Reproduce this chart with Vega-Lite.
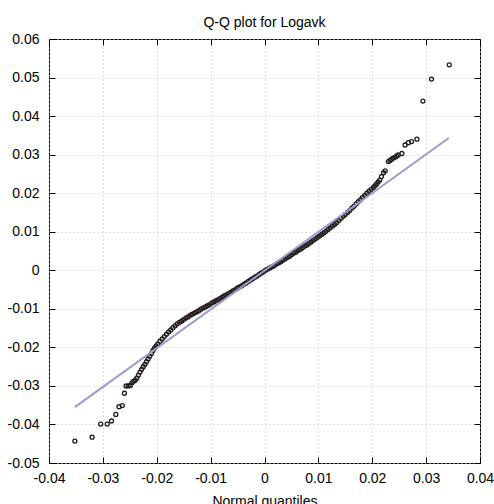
{
  "$schema": "https://vega.github.io/schema/vega-lite/v6.json",
  "width": 431,
  "height": 424,
  "autosize": "none",
  "padding": {"left": 49, "top": 39, "right": 14, "bottom": 41},
  "background": "white",
  "title": {"text": "Q-Q plot for Logavk", "font": "Liberation Sans", "fontSize": 14, "fontWeight": "normal", "color": "#000", "offset": 2, "frame": "group"},
  "config": {
    "view": {"stroke": "#000", "strokeWidth": 1},
    "axis": {
      "labelFont": "Liberation Sans",
      "labelFontSize": 14,
      "labelColor": "#000",
      "titleFont": "Liberation Sans",
      "titleFontSize": 14,
      "titleFontWeight": "normal",
      "titleColor": "#000",
      "tickColor": "#000",
      "tickWidth": 1,
      "tickSize": -6,
      "domain": false,
      "labelFlush": false,
      "labelOverlap": false,
      "gridColor": "#c4c4c4",
      "gridDash": [1, 3],
      "gridWidth": 1
    }
  },
  "datasets": {
    "pts": [
      {"x": -0.0352, "y": -0.0443},
      {"x": -0.0320, "y": -0.0433},
      {"x": -0.0304, "y": -0.0399},
      {"x": -0.0292, "y": -0.0399},
      {"x": -0.0284, "y": -0.0391},
      {"x": -0.0276, "y": -0.0374},
      {"x": -0.0270, "y": -0.0354},
      {"x": -0.0264, "y": -0.0351},
      {"x": -0.0260, "y": -0.0319},
      {"x": -0.0257, "y": -0.0300},
      {"x": -0.0253, "y": -0.0300},
      {"x": -0.0249, "y": -0.0299},
      {"x": -0.0246, "y": -0.0292},
      {"x": -0.0243, "y": -0.0288},
      {"x": -0.0240, "y": -0.0285},
      {"x": -0.0237, "y": -0.0280},
      {"x": -0.0234, "y": -0.0272},
      {"x": -0.0231, "y": -0.0264},
      {"x": -0.0228, "y": -0.0257},
      {"x": -0.0225, "y": -0.0250},
      {"x": -0.0222, "y": -0.0244},
      {"x": -0.0219, "y": -0.0237},
      {"x": -0.0216, "y": -0.0230},
      {"x": -0.0213, "y": -0.0223},
      {"x": -0.0210, "y": -0.0216},
      {"x": -0.0207, "y": -0.0208},
      {"x": -0.0204, "y": -0.0202},
      {"x": -0.0201, "y": -0.0196},
      {"x": -0.0198, "y": -0.0191},
      {"x": -0.0194, "y": -0.0184},
      {"x": -0.0190, "y": -0.0178},
      {"x": -0.0186, "y": -0.0172},
      {"x": -0.0182, "y": -0.0166},
      {"x": -0.0178, "y": -0.0160},
      {"x": -0.0174, "y": -0.0155},
      {"x": -0.0170, "y": -0.0149},
      {"x": -0.0166, "y": -0.0144},
      {"x": -0.0162, "y": -0.0139},
      {"x": -0.0158, "y": -0.0135},
      {"x": -0.0154, "y": -0.0132},
      {"x": -0.0150, "y": -0.0128},
      {"x": -0.0146, "y": -0.0124},
      {"x": -0.0142, "y": -0.0121},
      {"x": -0.0138, "y": -0.0117},
      {"x": -0.0134, "y": -0.0114},
      {"x": -0.0130, "y": -0.0111},
      {"x": -0.0126, "y": -0.0108},
      {"x": -0.0122, "y": -0.0105},
      {"x": -0.0118, "y": -0.0101},
      {"x": -0.0114, "y": -0.0098},
      {"x": -0.0110, "y": -0.0095},
      {"x": -0.0106, "y": -0.0092},
      {"x": -0.0102, "y": -0.0089},
      {"x": -0.0098, "y": -0.0085},
      {"x": -0.0094, "y": -0.0082},
      {"x": -0.0090, "y": -0.0079},
      {"x": -0.0086, "y": -0.0076},
      {"x": -0.0082, "y": -0.0073},
      {"x": -0.0078, "y": -0.0069},
      {"x": -0.0074, "y": -0.0066},
      {"x": -0.0070, "y": -0.0063},
      {"x": -0.0066, "y": -0.0060},
      {"x": -0.0062, "y": -0.0057},
      {"x": -0.0058, "y": -0.0053},
      {"x": -0.0054, "y": -0.0050},
      {"x": -0.0050, "y": -0.0046},
      {"x": -0.0046, "y": -0.0043},
      {"x": -0.0042, "y": -0.0040},
      {"x": -0.0038, "y": -0.0036},
      {"x": -0.0034, "y": -0.0033},
      {"x": -0.0030, "y": -0.0029},
      {"x": -0.0026, "y": -0.0025},
      {"x": -0.0022, "y": -0.0022},
      {"x": -0.0018, "y": -0.0018},
      {"x": -0.0014, "y": -0.0015},
      {"x": -0.0010, "y": -0.0011},
      {"x": -0.0006, "y": -0.0007},
      {"x": -0.0002, "y": -0.0004},
      {"x": 0.0002, "y": 0.0000},
      {"x": 0.0006, "y": 0.0003},
      {"x": 0.0010, "y": 0.0006},
      {"x": 0.0014, "y": 0.0009},
      {"x": 0.0018, "y": 0.0012},
      {"x": 0.0022, "y": 0.0016},
      {"x": 0.0026, "y": 0.0019},
      {"x": 0.0030, "y": 0.0022},
      {"x": 0.0034, "y": 0.0026},
      {"x": 0.0038, "y": 0.0029},
      {"x": 0.0042, "y": 0.0033},
      {"x": 0.0046, "y": 0.0036},
      {"x": 0.0050, "y": 0.0040},
      {"x": 0.0054, "y": 0.0044},
      {"x": 0.0058, "y": 0.0047},
      {"x": 0.0062, "y": 0.0051},
      {"x": 0.0066, "y": 0.0054},
      {"x": 0.0070, "y": 0.0058},
      {"x": 0.0074, "y": 0.0062},
      {"x": 0.0078, "y": 0.0065},
      {"x": 0.0082, "y": 0.0069},
      {"x": 0.0086, "y": 0.0073},
      {"x": 0.0090, "y": 0.0077},
      {"x": 0.0094, "y": 0.0081},
      {"x": 0.0098, "y": 0.0085},
      {"x": 0.0102, "y": 0.0089},
      {"x": 0.0106, "y": 0.0093},
      {"x": 0.0110, "y": 0.0097},
      {"x": 0.0114, "y": 0.0101},
      {"x": 0.0118, "y": 0.0106},
      {"x": 0.0122, "y": 0.0110},
      {"x": 0.0126, "y": 0.0115},
      {"x": 0.0130, "y": 0.0119},
      {"x": 0.0134, "y": 0.0124},
      {"x": 0.0138, "y": 0.0129},
      {"x": 0.0142, "y": 0.0135},
      {"x": 0.0146, "y": 0.0140},
      {"x": 0.0150, "y": 0.0145},
      {"x": 0.0154, "y": 0.0150},
      {"x": 0.0158, "y": 0.0155},
      {"x": 0.0162, "y": 0.0161},
      {"x": 0.0166, "y": 0.0166},
      {"x": 0.0170, "y": 0.0172},
      {"x": 0.0174, "y": 0.0178},
      {"x": 0.0178, "y": 0.0183},
      {"x": 0.0182, "y": 0.0189},
      {"x": 0.0186, "y": 0.0194},
      {"x": 0.0190, "y": 0.0200},
      {"x": 0.0194, "y": 0.0205},
      {"x": 0.0198, "y": 0.0210},
      {"x": 0.0202, "y": 0.0215},
      {"x": 0.0205, "y": 0.0219},
      {"x": 0.0208, "y": 0.0224},
      {"x": 0.0211, "y": 0.0229},
      {"x": 0.0214, "y": 0.0234},
      {"x": 0.0217, "y": 0.0243},
      {"x": 0.0221, "y": 0.0253},
      {"x": 0.0224, "y": 0.0258},
      {"x": 0.0230, "y": 0.0282},
      {"x": 0.0233, "y": 0.0285},
      {"x": 0.0236, "y": 0.0288},
      {"x": 0.0239, "y": 0.0291},
      {"x": 0.0242, "y": 0.0293},
      {"x": 0.0245, "y": 0.0296},
      {"x": 0.0248, "y": 0.0299},
      {"x": 0.0255, "y": 0.0303},
      {"x": 0.0261, "y": 0.0325},
      {"x": 0.0267, "y": 0.0331},
      {"x": 0.0273, "y": 0.0334},
      {"x": 0.0283, "y": 0.0340},
      {"x": 0.0294, "y": 0.0439},
      {"x": 0.0310, "y": 0.0496},
      {"x": 0.0343, "y": 0.0533}
    ],
    "ref": [
      {"x": -0.0352, "y": -0.0355},
      {"x": 0.0342, "y": 0.0343}
    ]
  },
  "layer": [
    {
      "data": {"name": "pts"},
      "mark": {"type": "point", "shape": "circle", "filled": false, "size": 16, "stroke": "#221a1a", "strokeWidth": 1.3, "opacity": 1},
      "encoding": {
        "x": {
          "field": "x", "type": "quantitative",
          "scale": {"domain": [-0.04, 0.04], "nice": false, "zero": false},
          "axis": {
            "orient": "bottom",
            "values": [-0.04, -0.03, -0.02, -0.01, 0, 0.01, 0.02, 0.03, 0.04],
            "labelExpr": "toString(round(datum.value*100)/100)",
            "grid": true,
            "labelPadding": 14,
            "title": "Normal quantiles",
            "titlePadding": 9
          }
        },
        "y": {
          "field": "y", "type": "quantitative",
          "scale": {"domain": [-0.05, 0.06], "nice": false, "zero": false},
          "axis": {
            "orient": "left",
            "values": [-0.05, -0.04, -0.03, -0.02, -0.01, 0, 0.01, 0.02, 0.03, 0.04, 0.05, 0.06],
            "labelExpr": "toString(round(datum.value*100)/100)",
            "grid": true,
            "labelPadding": 16,
            "title": null
          }
        }
      }
    },
    {
      "data": {"name": "ref"},
      "mark": {"type": "line", "color": "#9c9cd0", "strokeWidth": 2},
      "encoding": {
        "x": {
          "field": "x", "type": "quantitative",
          "axis": {
            "orient": "top",
            "values": [-0.04, -0.03, -0.02, -0.01, 0, 0.01, 0.02, 0.03, 0.04],
            "labels": false,
            "grid": false,
            "title": null
          }
        },
        "y": {
          "field": "y", "type": "quantitative",
          "axis": {
            "orient": "right",
            "values": [-0.05, -0.04, -0.03, -0.02, -0.01, 0, 0.01, 0.02, 0.03, 0.04, 0.05, 0.06],
            "labels": false,
            "grid": false,
            "title": null
          }
        }
      }
    }
  ],
  "resolve": {"axis": {"x": "independent", "y": "independent"}}
}
